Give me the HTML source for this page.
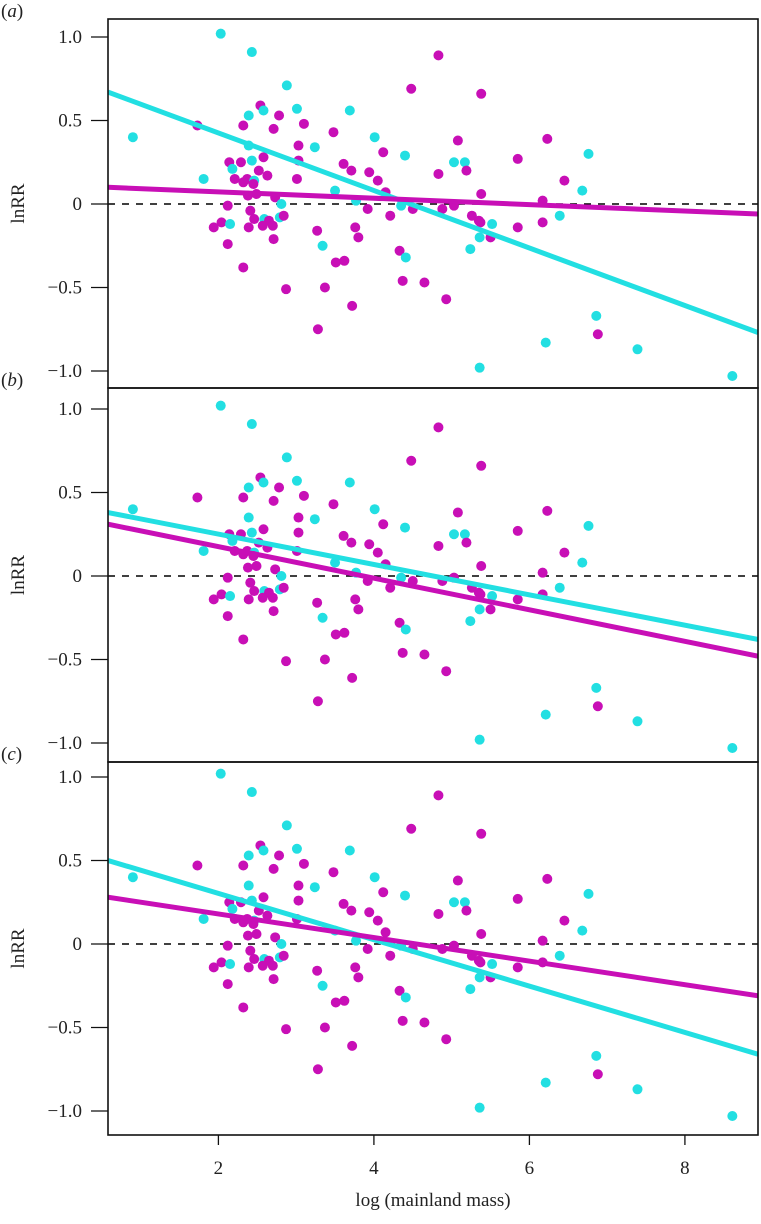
<!DOCTYPE html>
<html><head><meta charset="utf-8"><style>
body{margin:0;background:#fff}
svg text{font-family:"Liberation Serif",serif;fill:#222}
</style></head><body>
<svg id="chart" width="761" height="1219" viewBox="0 0 761 1219" xmlns="http://www.w3.org/2000/svg"></svg>
<script>
const xs=[2.03,2.43,0.90,2.88,2.54,2.58,2.39,2.78,3.01,1.73,2.32,2.71,3.10,2.39,3.03,3.24,2.58,2.14,2.29,2.43,2.18,2.52,2.63,3.03,3.01,1.81,2.21,2.32,2.37,2.46,2.45,2.38,2.49,2.73,2.12,2.81,2.41,2.46,2.59,2.65,2.79,2.84,2.04,1.94,2.15,2.39,2.57,2.70,2.12,2.71,3.27,3.34,2.32,2.87,3.37,3.28,
4.83,4.48,5.38,3.69,3.48,4.01,5.08,6.23,4.12,4.40,6.76,5.85,5.03,5.17,3.61,3.71,5.19,3.94,4.05,4.83,6.45,3.50,4.15,5.38,6.68,3.77,6.17,4.35,4.50,3.92,4.88,5.03,4.21,5.26,5.35,5.37,5.52,5.85,6.17,6.39,3.76,3.80,5.36,5.50,5.24,4.33,4.41,3.51,3.62,4.37,4.65,3.72,4.93,6.86,6.88,6.21,7.39,5.36,8.61];
const ys=[1.02,0.91,0.40,0.71,0.59,0.56,0.53,0.53,0.57,0.47,0.47,0.45,0.48,0.35,0.35,0.34,0.28,0.25,0.25,0.26,0.21,0.20,0.17,0.26,0.15,0.15,0.15,0.13,0.15,0.14,0.12,0.05,0.06,0.04,-0.01,0.00,-0.04,-0.09,-0.09,-0.10,-0.08,-0.07,-0.11,-0.14,-0.12,-0.14,-0.13,-0.13,-0.24,-0.21,-0.16,-0.25,-0.38,-0.51,-0.50,-0.75,
0.89,0.69,0.66,0.56,0.43,0.40,0.38,0.39,0.31,0.29,0.30,0.27,0.25,0.25,0.24,0.20,0.20,0.19,0.14,0.18,0.14,0.08,0.07,0.06,0.08,0.02,0.02,-0.01,-0.03,-0.03,-0.03,-0.01,-0.07,-0.07,-0.10,-0.11,-0.12,-0.14,-0.11,-0.07,-0.14,-0.20,-0.20,-0.20,-0.27,-0.28,-0.32,-0.35,-0.34,-0.46,-0.47,-0.61,-0.57,-0.67,-0.78,-0.83,-0.87,-0.98,-1.03];
const groups="CCCCMCCMCMMMMCMCMMMCCMMMMCMMMCMMMMMCMMCMCMMMCMMMMMMCMMMM"+"MMMCMCMMMCCMCCMMMMMMMCMMCCMCMMMMMMMMCMMCMMCMCMCMMMMMMCMCCCC";
const panelLetters=["a","b","c"];
const cyanLine=[[0.67,-0.77],[0.38,-0.38],[0.50,-0.66]];
const magLine=[[0.10,-0.06],[0.31,-0.48],[0.28,-0.31]];
const yTicks=[1.0,0.5,0,-0.5,-1.0];
const yTickLabels=["1.0","0.5","0","\u22120.5","\u22121.0"];
const xTicks=[2,4,6,8];
const NS="http://www.w3.org/2000/svg",svg=document.getElementById('chart');
const X0=0.58,X1=8.94,L=108,R=758;
const panels=[{top:19,bot:388,zero:204},{top:388,bot:762,zero:576},{top:762,bot:1135,zero:944}];
const sx=v=>L+(v-X0)/(X1-X0)*(R-L);
const K=167;
function el(t,a,p){const e=document.createElementNS(NS,t);for(const k in a)e.setAttribute(k,a[k]);(p||svg).appendChild(e);return e;}
const CY="#22dfe2",MG="#c80fb6";
panels.forEach((P,i)=>{
  const sy=v=>P.zero-v*K;
  const g=el('g',{});
  
  
  const clipId='clip'+i;
  const cp=el('clipPath',{id:clipId},g);el('rect',{x:L,y:P.top,width:R-L,height:P.bot-P.top},cp);
  el('line',{x1:L,x2:R,y1:sy(0),y2:sy(0),stroke:'#000','stroke-width':1.6,'stroke-dasharray':'7,7'},g);
  const dg=el('g',{'clip-path':'url(#'+clipId+')'},g);
  xs.forEach((x,j)=>{const c=el('circle',{cx:sx(x),cy:sy(ys[j]),r:5,fill:groups[j]==='C'?CY:MG},dg);
    
    });
  const lc=el('line',{x1:sx(X0),x2:sx(X1),y1:sy(cyanLine[i][0]),y2:sy(cyanLine[i][1]),stroke:CY,'stroke-width':5},dg);
  
  
  const lm=el('line',{x1:sx(X0),x2:sx(X1),y1:sy(magLine[i][0]),y2:sy(magLine[i][1]),stroke:MG,'stroke-width':5},dg);
  
  
  el('rect',{x:L,y:P.top,width:R-L,height:P.bot-P.top,fill:'none',stroke:'#111','stroke-width':1.6},g);
  yTicks.forEach((t,k)=>{el('line',{x1:L-17,x2:L,y1:sy(t),y2:sy(t),stroke:'#111','stroke-width':1.3},g);
    const tx=el('text',{x:L-26,y:sy(t)+6,'text-anchor':'end','font-size':19},g);tx.textContent=yTickLabels[k];
    
    });
  const yl=el('text',{x:24,y:(P.top+P.bot)/2,'text-anchor':'middle','font-size':19,transform:`rotate(-90 24 ${(P.top+P.bot)/2})`},g);yl.textContent='lnRR';
  
  
  const pl=el('text',{x:1,y:P.top-2,'font-size':19},g);
  pl.innerHTML='(<tspan font-style="italic">'+panelLetters[i]+'</tspan>)';
  
  
});
xTicks.forEach(t=>{el('line',{x1:sx(t),x2:sx(t),y1:1135,y2:1145,stroke:'#111','stroke-width':1.3});
  const tx=el('text',{x:sx(t),y:1174,'text-anchor':'middle','font-size':19});tx.textContent=t;
  
  });
const xt=el('text',{x:433,y:1206,'text-anchor':'middle','font-size':19});xt.textContent='log (mainland mass)';


</script>
</body></html>
